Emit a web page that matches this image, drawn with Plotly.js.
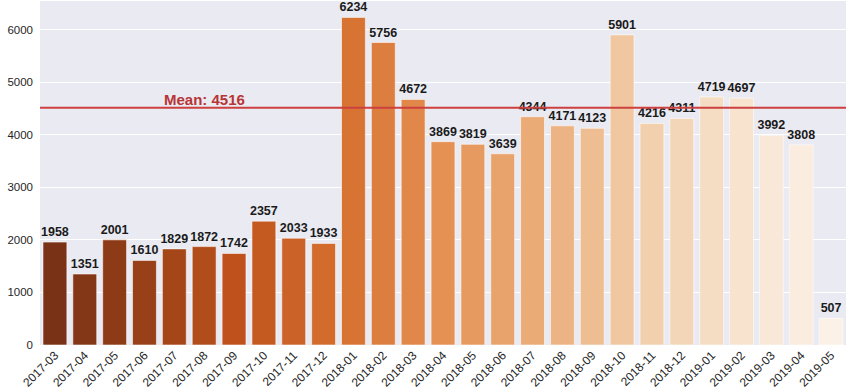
<!DOCTYPE html>
<html>
<head>
<meta charset="utf-8">
<script src="https://cdn.plot.ly/plotly-3.0.1.min.js"></script>
<style>html,body{margin:0;padding:0;background:#fff}#chart{width:855px;height:390px}</style>
</head>
<body>
<div id="chart"></div>
<script>
const months = ["2017-03","2017-04","2017-05","2017-06","2017-07","2017-08","2017-09","2017-10","2017-11","2017-12",
  "2018-01","2018-02","2018-03","2018-04","2018-05","2018-06","2018-07","2018-08","2018-09","2018-10","2018-11","2018-12",
  "2019-01","2019-02","2019-03","2019-04","2019-05"];
const counts = [1958,1351,2001,1610,1829,1872,1742,2357,2033,1933,
  6234,5756,4672,3869,3819,3639,4344,4171,4123,5901,4216,4311,
  4719,4697,3992,3808,507];
const meanValue = 4516;
const meanLabel = "Mean: 4516";

// Oranges colormap (ColorBrewer), reversed, sampled and desaturated like seaborn
const orangesStops = ["#fff5eb","#fee6ce","#fdd0a2","#fdae6b","#fd8d3c","#f16913","#d94801","#a63603","#7f2704"];
function hex2rgb(h){return [parseInt(h.slice(1,3),16),parseInt(h.slice(3,5),16),parseInt(h.slice(5,7),16)];}
function oranges(t){
  const n = orangesStops.length - 1;
  const p = Math.min(Math.max(t,0),1) * n;
  const i = Math.min(Math.floor(p), n - 1);
  const f = p - i;
  const a = hex2rgb(orangesStops[i]), b = hex2rgb(orangesStops[i+1]);
  return a.map((v,k)=>(v + (b[k]-v)*f)/255);
}
function desaturate(rgb, prop){
  const [r,g,b] = rgb;
  const mx = Math.max(r,g,b), mn = Math.min(r,g,b);
  const l = (mx+mn)/2;
  let h = 0, s = 0;
  if (mx !== mn) {
    const d = mx - mn;
    s = l <= 0.5 ? d/(mx+mn) : d/(2-mx-mn);
    if (mx === r) h = ((g-b)/d) % 6;
    else if (mx === g) h = (b-r)/d + 2;
    else h = (r-g)/d + 4;
    h = h/6; if (h < 0) h += 1;
  }
  s *= prop;
  function hue(m1, m2, hh){
    hh = ((hh % 1) + 1) % 1;
    if (hh < 1/6) return m1 + (m2-m1)*hh*6;
    if (hh < 0.5) return m2;
    if (hh < 2/3) return m1 + (m2-m1)*(2/3-hh)*6;
    return m1;
  }
  if (s === 0) return [l,l,l];
  const m2 = l <= 0.5 ? l*(1+s) : l+s-l*s;
  const m1 = 2*l - m2;
  return [hue(m1,m2,h+1/3), hue(m1,m2,h), hue(m1,m2,h-1/3)];
}
function toCss(c){return "rgb(" + c.map(v=>Math.round(v*255)).join(",") + ")";}
const N = months.length;
const colors = months.map((_, i) => toCss(desaturate(oranges(1 - (i + 1) / (N + 1)), 0.75)));

const trace = {
  type: "bar",
  x: months,
  y: counts,
  marker: {color: colors, line: {color: "rgba(255,255,255,0.7)", width: 0.8}},
  width: 0.8,
  text: counts.map(String),
  textposition: "outside",
  constraintext: "none",
  cliponaxis: false,
  textfont: {family: "Liberation Sans, Arial, sans-serif", size: 12.5, color: "#1a1a1a", weight: "bold"},
  hoverinfo: "x+y"
};

const layout = {
  width: 855, height: 390,
  margin: {l: 40, r: 9, t: 1, b: 45},
  paper_bgcolor: "#ffffff",
  plot_bgcolor: "#eaeaf2",
  showlegend: false,
  font: {family: "Liberation Sans, Arial, sans-serif", color: "#262626"},
  xaxis: {
    type: "category",
    range: [-0.5, N - 0.5],
    tickangle: -45,
    tickfont: {size: 12, color: "#262626"},
    showgrid: false, zeroline: false, showline: false, ticks: ""
  },
  yaxis: {
    range: [0, Math.max(...counts) * 1.05],
    tickvals: [0,1000,2000,3000,4000,5000,6000],
    tickfont: {size: 11.5, color: "#262626"},
    gridcolor: "#ffffff", gridwidth: 1,
    zeroline: false, showline: false, ticks: "",
    ticklabelstandoff: 6
  },
  shapes: [{
    type: "line", xref: "paper", x0: 0, x1: 1, yref: "y", y0: meanValue, y1: meanValue,
    line: {color: "#cd4040", width: 2}, layer: "above"
  }],
  annotations: [{
    x: 5, y: meanValue, xref: "x", yref: "y",
    text: "<b>" + meanLabel + "</b>", showarrow: false,
    yanchor: "bottom", xanchor: "center", yshift: -2,
    font: {size: 15, color: "#b73535", family: "Liberation Sans, Arial, sans-serif"}
  }],
  bargap: 0.2
};

Plotly.newPlot("chart", [trace], layout, {displayModeBar: false, staticPlot: true});
</script>
</body>
</html>
